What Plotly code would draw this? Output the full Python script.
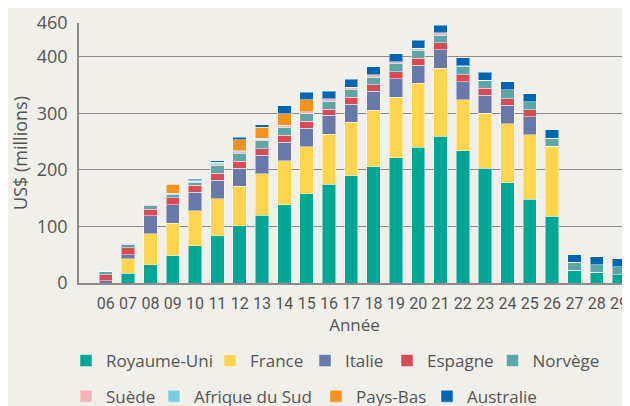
import plotly.graph_objects as go

years = ["06", "07", "08", "09", "10", "11", "12", "13", "14", "15", "16", "17",
         "18", "19", "20", "21", "22", "23", "24", "25", "26", "27", "28", "29"]

royaume_uni = [0, 17, 32, 48, 66, 84, 101.5, 120, 138.5, 158, 175, 190,
               206, 222, 240, 260, 234, 203, 177, 148, 118, 22.5, 19, 15]
france = [0, 25.5, 55, 58, 62, 65.5, 69.5, 73.5, 78, 83, 88, 94,
          100, 107, 113, 120, 90, 97, 105, 114, 124, 0, 0, 0]
italie = [4, 7.7, 32, 32.4, 32.4, 32.4, 32.4, 32.4, 32.4, 32.4, 33.6, 32.4,
          33, 32.4, 32.4, 32.4, 32, 32.4, 32.4, 32.4, 0, 0, 0, 0]
espagne = [10.6, 12, 11.8, 12.4, 12.4, 12.4, 11.8, 11.8, 12.4, 12.4, 11.2, 12.4,
           11.8, 12.4, 12.4, 12.4, 12.4, 11.8, 11.8, 11.8, 0, 0, 0, 0]
norvege = [5.9, 5.6, 5.9, 5.3, 5.3, 14.2, 14.7, 14.2, 13.6, 13.6, 14.2, 14.2,
           13.6, 14.2, 13.6, 13.6, 14.7, 14.7, 15.3, 14.7, 14.2, 14.2, 13.6, 14.2]
suede = [0.6, 2.2, 2.2, 2.9, 1.8, 2.6, 2.2, 2.2, 4.1, 3.5, 4.1, 3.5,
         4.1, 3.5, 3.5, 4.1, 1, 0, 0, 0, 0, 0, 0, 0]
afrique_du_sud = [0, 1.6, 1.8, 0, 2.4, 2.4, 1.6, 1.6, 0, 0, 0, 0,
                  0, 0, 0, 0, 0, 0, 0, 0, 0, 0, 0, 0]
pays_bas = [0, 0, 0, 15.9, 0, 0, 20, 19.5, 20.6, 21.2, 0, 0,
            0, 0, 0, 0, 0, 0, 0, 0, 0, 0, 0, 0]
australie = [0, 0, 0, 0, 2.4, 2.9, 4.1, 4.7, 13.6, 13.6, 13.6, 13.6,
             14.2, 14.2, 14.2, 13.6, 14.2, 14.2, 14.2, 14.2, 14.7, 13.6, 13.6, 13.6]

y_ticks = [0, 100, 200, 300, 400, 460]

series_names = ["Royaume-Uni", "France", "Italie", "Espagne", "Norvège",
                "Suède", "Afrique du Sud", "Pays-Bas", "Australie"]
series_values = [royaume_uni, france, italie, espagne, norvege,
                 suede, afrique_du_sud, pays_bas, australie]
series_colors = ["#00a795", "#fed54c", "#6878a9", "#d84b55", "#5ca6a6",
                 "#f4b3bb", "#79cfe0", "#f6921e", "#0066b3"]

# legend placement (paper coords): one legend box per entry, two rows
legend_x = [-0.0236, 0.2377, 0.4102, 0.559, 0.7505,
            -0.0236, 0.1361, 0.4301, 0.6316]
legend_y = [-0.300, -0.300, -0.300, -0.300, -0.300,
            -0.437, -0.437, -0.437, -0.437]

BG = "#f0efea"
TXT = "#555555"
GRID = "#8c8c8c"

fig = go.Figure()
layout_legends = {}
for i, (name, vals, color) in enumerate(zip(series_names, series_values, series_colors)):
    key = "legend" if i == 0 else f"legend{i + 1}"
    fig.add_trace(go.Bar(
        x=years, y=vals, name=name, legend=key,
        marker=dict(color=color, line=dict(color="rgba(255,255,255,0.45)", width=1)),
    ))
    layout_legends[key] = dict(
        orientation="h", x=legend_x[i], xanchor="left",
        y=legend_y[i], yanchor="middle",
        font=dict(size=17, color=TXT), bgcolor="rgba(0,0,0,0)",
        itemclick=False, itemdoubleclick=False,
    )

# The page body has an 8px default margin, so the figure is sized/offset to compensate.
fig.update_layout(
    barmode="stack",
    bargap=0.4,
    width=622, height=398,
    paper_bgcolor=BG, plot_bgcolor=BG,
    margin=dict(l=71, r=0, t=15, b=123, autoexpand=False),
    font=dict(family="Open Sans, Noto Sans, sans-serif", color=TXT, size=18),
    showlegend=True,
    **layout_legends,
)

fig.update_xaxes(
    type="category",
    range=[-1.2, 23.49],
    showgrid=False,
    showline=True, linecolor=GRID, linewidth=1.5,
    ticks="", tickangle=0, ticklabelstandoff=5,
    tickfont=dict(family="Roboto, sans-serif", size=16, color=TXT),
    title=dict(text="Année", font=dict(size=17, color=TXT), standoff=4),
)
fig.update_yaxes(
    range=[0, 460],
    tickvals=y_ticks,
    showgrid=True, gridcolor=GRID, gridwidth=1,
    showline=True, linecolor=GRID, linewidth=1.5,
    zeroline=False,
    ticks="", ticklabelstandoff=6,
    tickfont=dict(size=18, color=TXT),
    title=dict(text="US$ (millions)", font=dict(size=18, color=TXT), standoff=6),
)

fig.write_html("out.html")
